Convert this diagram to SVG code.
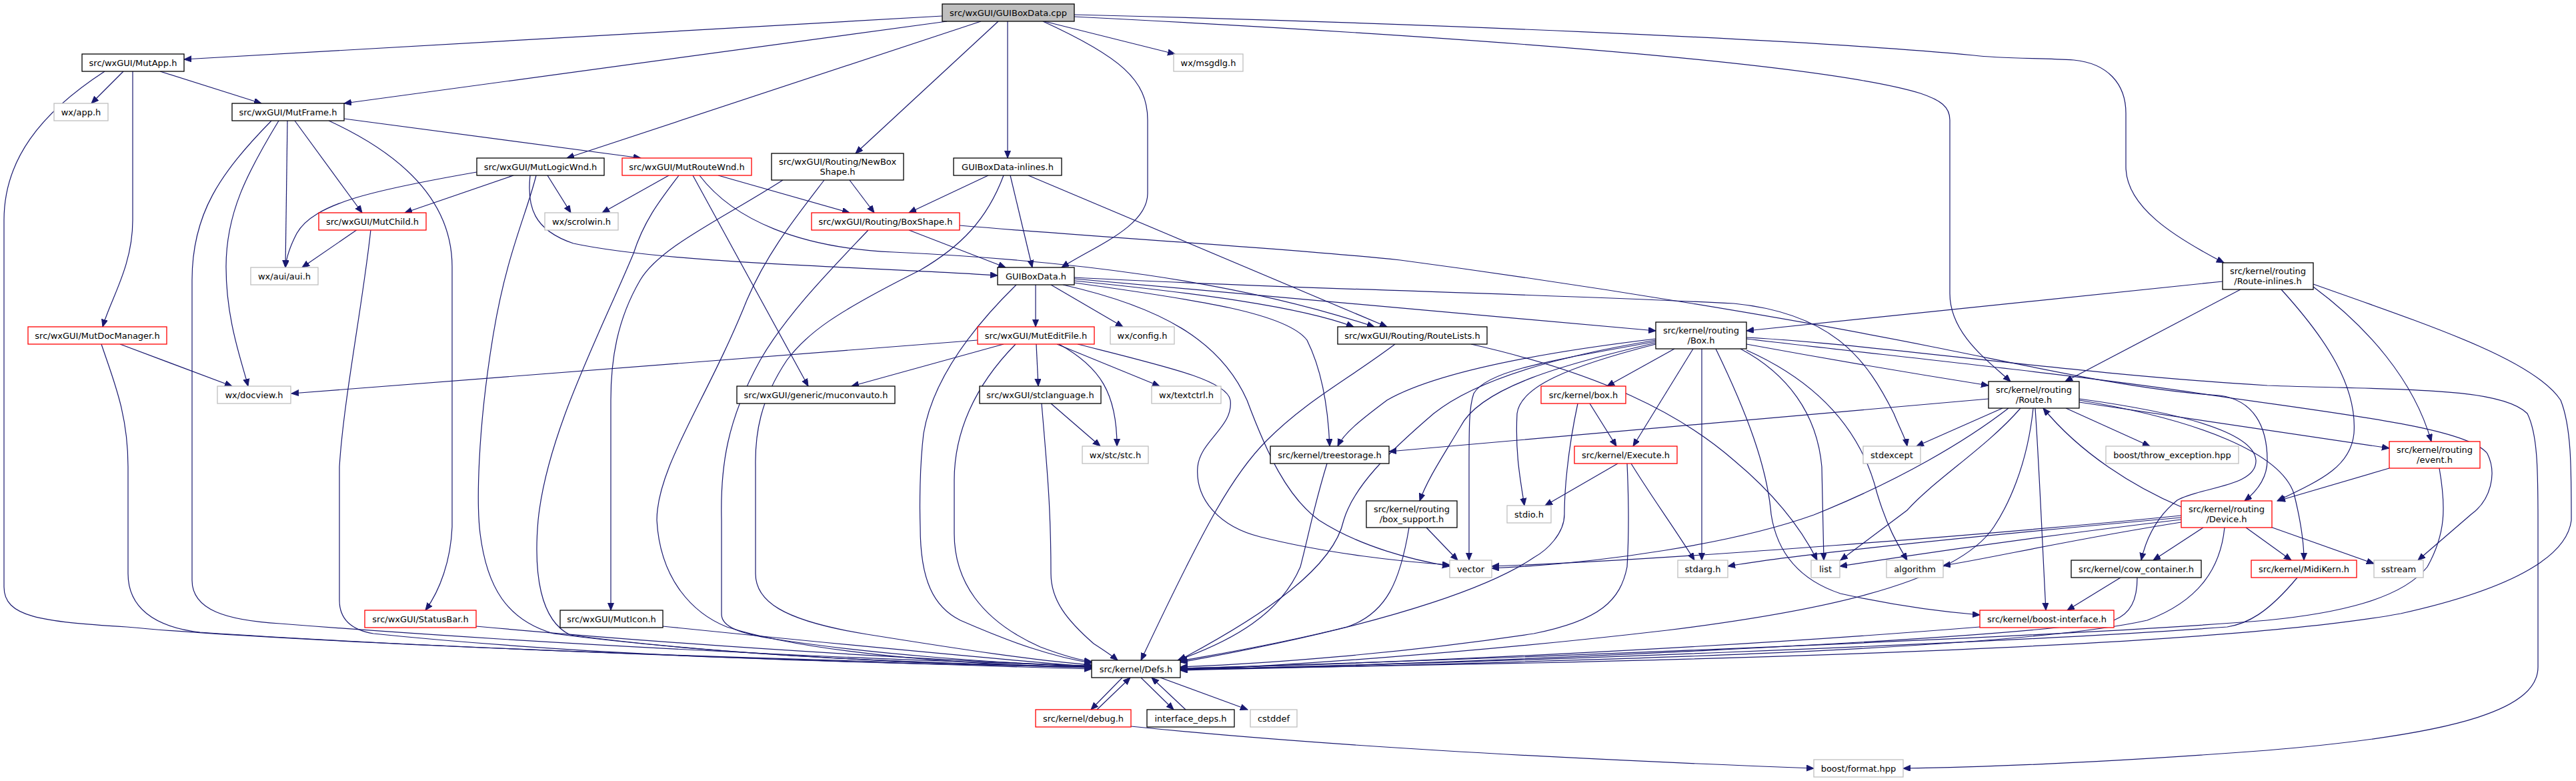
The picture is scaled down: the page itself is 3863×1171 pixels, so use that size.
<svg xmlns="http://www.w3.org/2000/svg" width="3863" height="1171" viewBox="0 0 3863 1171">
<defs>
<style>
.e{fill:none;stroke:#191970;stroke-width:1.2;marker-end:url(#ah)}
rect{fill:#fff;stroke-width:1.3}
rect.b{stroke:#000}
rect.r{stroke:#ff0000}
rect.g{stroke:#bfbfbf}
rect.s{fill:#bfbfbf;stroke:#000}
text{font-family:"DejaVu Sans","Liberation Sans",sans-serif;font-size:13px;text-anchor:middle;fill:#000}
</style>
<marker id="ah" markerWidth="12" markerHeight="10" refX="11" refY="4.5" orient="auto" markerUnits="userSpaceOnUse"><path d="M0,0 L11,4.5 L0,9 z" fill="#191970" stroke="#191970" stroke-width="1"/></marker>
</defs>
<rect x="0" y="0" width="3863" height="1171" fill="#fff" stroke="none"/>
<g id="edges">
<path class="e" d="M1413,24 L276,89"/>
<path class="e" d="M1420,32 L516,155"/>
<path class="e" d="M1471,32 L850,237"/>
<path class="e" d="M1497,32 L1283,230"/>
<path class="e" d="M1511,32 L1511,237"/>
<path class="e" d="M1564,32 C1680,85 1721,120 1721,180 L1721,290 C1721,340 1640,370 1592,401"/>
<path class="e" d="M1566,32 L1762,81"/>
<path class="e" d="M1611,22 C2100,34 2700,58 2960,83 C3000,88 3060,87 3110,90 C3160,95 3188,125 3188,170 L3188,250 C3188,310 3260,355 3335,394"/>
<path class="e" d="M1611,25 C2300,60 2750,100 2880,140 C2910,150 2924,160 2924,180 L2924,440 C2924,500 2980,540 3015,572"/>
<path class="e" d="M185,107 L137,155"/>
<path class="e" d="M240,107 L392,155"/>
<path class="e" d="M199,107 L199,330 C199,400 165,450 154,490"/>
<path class="e" d="M157,107 C60,170 6,240 6,330 L6,880 C6,925 60,932 190,940 C400,960 1000,985 1637,1003"/>
<path class="e" d="M180,516 L348,579"/>
<path class="e" d="M152,516 C170,570 192,620 192,700 L192,860 C192,910 230,940 300,948 C700,975 1200,990 1637,1000"/>
<path class="e" d="M407,181 C330,260 288,320 288,420 L288,870 C288,915 340,930 420,935 C800,965 1300,990 1637,998"/>
<path class="e" d="M418,181 C370,260 339,320 339,400 C339,480 362,540 372,579"/>
<path class="e" d="M431,181 L428,401"/>
<path class="e" d="M442,181 L543,319"/>
<path class="e" d="M493,181 C600,230 678,300 678,400 L678,790 C676,840 660,885 638,915"/>
<path class="e" d="M516,178 L961,237"/>
<path class="e" d="M715,258 C560,285 470,305 445,350 C432,375 429,390 428,401"/>
<path class="e" d="M770,263 L607,319"/>
<path class="e" d="M821,263 L856,319"/>
<path class="e" d="M804,263 C790,320 760,380 740,500 C715,650 715,760 720,800 C730,880 760,930 830,950 C1100,985 1400,995 1637,1001"/>
<path class="e" d="M795,263 C790,310 800,345 860,365 C1000,395 1300,400 1496,413"/>
<path class="e" d="M1003,263 L903,319"/>
<path class="e" d="M1018,263 C990,300 966,330 950,380 C900,500 820,650 807,780 C800,860 810,930 855,952 C1100,985 1400,995 1637,1000"/>
<path class="e" d="M1039,263 L1212,579"/>
<path class="e" d="M1049,263 C1100,330 1200,372 1340,378 C1600,390 1850,420 2061,490"/>
<path class="e" d="M1077,263 L1274,319"/>
<path class="e" d="M1274,270 L1311,319"/>
<path class="e" d="M1174,270 C1080,330 990,370 960,420 C925,480 916,540 916,600 L916,915"/>
<path class="e" d="M1236,270 C1190,330 1150,380 1120,450 C1060,600 985,700 985,780 C990,870 1040,920 1090,940 C1200,975 1400,995 1637,1001"/>
<path class="e" d="M1482,263 L1363,319"/>
<path class="e" d="M1515,263 L1548,401"/>
<path class="e" d="M1505,263 C1480,330 1440,370 1380,405 C1250,470 1210,500 1180,540 C1140,600 1132,650 1133,700 L1133,860 C1133,900 1170,930 1300,951 C1450,975 1550,990 1637,997"/>
<path class="e" d="M1542,263 L2080,490"/>
<path class="e" d="M1302,345 C1250,400 1180,470 1140,540 C1090,630 1080,700 1082,780 L1082,921 C1082,940 1110,950 1161,958 C1300,980 1500,995 1637,999"/>
<path class="e" d="M1363,345 L1508,401"/>
<path class="e" d="M1439,338 C1700,360 1932,372 2100,390 C2400,430 2700,480 2898,520 C3050,550 3200,585 3329,593 C3380,600 3400,640 3400,690 C3400,720 3380,740 3366,751"/>
<path class="e" d="M1553,427 L1553,490"/>
<path class="e" d="M1576,427 L1684,490"/>
<path class="e" d="M1524,427 C1470,480 1400,560 1385,650 C1379,700 1379,760 1380,790 C1380,870 1400,910 1440,930 C1520,965 1580,985 1637,994"/>
<path class="e" d="M1611,421 C1800,440 1950,460 2030,490"/>
<path class="e" d="M1611,418 L2483,496"/>
<path class="e" d="M1611,416 C1900,432 2300,440 2600,455 C2750,470 2800,540 2840,620 C2850,645 2858,658 2860,669"/>
<path class="e" d="M1611,424 C1800,450 1930,470 1960,510 C1985,560 1992,620 1994,669"/>
<path class="e" d="M1594,427 C1740,460 1830,510 1870,600 C1900,680 1930,745 1978,780 C2040,820 2120,840 2174,849"/>
<path class="e" d="M1466,510 L437,590"/>
<path class="e" d="M1505,516 L1277,579"/>
<path class="e" d="M1554,516 L1557,579"/>
<path class="e" d="M1588,516 C1650,550 1675,590 1675,669"/>
<path class="e" d="M1585,516 L1739,579"/>
<path class="e" d="M1523,516 C1460,580 1431,650 1431,720 L1431,800 C1431,870 1470,930 1560,970 C1600,985 1620,990 1637,992"/>
<path class="e" d="M1616,516 C1750,550 1840,570 1845,600 C1850,640 1800,660 1796,700 C1792,750 1830,790 1890,805 C1990,830 2100,842 2174,847"/>
<path class="e" d="M1576,605 L1650,669"/>
<path class="e" d="M1562,605 C1570,700 1576,760 1576,860 C1576,900 1600,930 1640,965 C1660,978 1670,985 1676,990"/>
<path class="e" d="M2092,516 C2020,570 1960,600 1900,660 C1850,710 1810,780 1711,990"/>
<path class="e" d="M2206,516 C2400,560 2520,620 2600,690 C2660,740 2700,790 2725,840"/>
<path class="e" d="M2511,523 L2410,579"/>
<path class="e" d="M2539,523 L2449,669"/>
<path class="e" d="M2552,523 L2552,840"/>
<path class="e" d="M2573,523 C2620,620 2650,700 2656,771 C2665,830 2700,870 2760,890 C2850,910 2920,918 2969,922"/>
<path class="e" d="M2610,523 C2680,560 2725,620 2732,700 L2735,840"/>
<path class="e" d="M2619,525 C2720,570 2790,640 2815,740 C2830,790 2845,815 2860,840"/>
<path class="e" d="M2483,508 C2300,530 2150,560 2080,600 C2040,630 2015,650 2006,669"/>
<path class="e" d="M2483,510 C2300,540 2200,580 2150,620 C2080,680 2030,730 2015,780 C2000,850 1900,920 1768,990"/>
<path class="e" d="M2483,512 C2330,540 2230,555 2210,590 C2203,610 2203,640 2203,700 L2203,840"/>
<path class="e" d="M2483,514 C2350,545 2220,580 2190,640 C2160,690 2140,720 2129,751"/>
<path class="e" d="M2483,516 C2350,550 2280,580 2275,620 C2272,680 2280,720 2286,758"/>
<path class="e" d="M2619,516 C2750,540 2900,565 2982,578"/>
<path class="e" d="M2619,508 C2800,530 3100,560 3300,590 C3500,620 3700,640 3730,680 C3745,710 3735,750 3706,771 L3626,840"/>
<path class="e" d="M2619,506 C2800,515 3100,560 3400,578 C3600,585 3750,580 3790,620 C3805,650 3806,700 3806,780 L3806,1000 C3806,1060 3700,1100 3400,1125 C3200,1140 3000,1150 2854,1152"/>
<path class="e" d="M3333,422 L2619,496"/>
<path class="e" d="M3360,434 L3097,572"/>
<path class="e" d="M3421,434 C3490,510 3535,580 3530,650 C3525,700 3480,720 3415,751"/>
<path class="e" d="M3469,430 C3550,490 3620,570 3646,662"/>
<path class="e" d="M3469,426 C3650,490 3800,540 3840,600 C3856,640 3856,700 3856,780 C3850,830 3780,880 3600,920 C3300,975 2400,995 1770,1003"/>
<path class="e" d="M2982,598 L2083,677"/>
<path class="e" d="M3003,612 L2874,669"/>
<path class="e" d="M3012,612 C2950,660 2850,720 2720,772 C2600,815 2400,845 2237,852"/>
<path class="e" d="M3030,612 C2980,670 2900,720 2860,765 L2760,840"/>
<path class="e" d="M3049,612 C3040,700 3010,760 2990,790 C2930,880 2700,920 2500,945 C2200,980 1900,1000 1770,1004"/>
<path class="e" d="M3052,612 C3058,700 3062,800 3068,915"/>
<path class="e" d="M3098,612 L3224,669"/>
<path class="e" d="M3118,603 L3583,672"/>
<path class="e" d="M3118,598 C3280,620 3380,650 3383,690 C3385,730 3300,730 3265,750 C3240,770 3220,800 3211,840"/>
<path class="e" d="M3118,600 C3300,630 3420,680 3440,740 C3450,780 3455,810 3455,840"/>
<path class="e" d="M3271,760 C3200,730 3120,680 3064,612"/>
<path class="e" d="M3304,791 L3229,840"/>
<path class="e" d="M3336,791 C3330,850 3300,900 3220,930 C3000,980 2200,995 1770,1005"/>
<path class="e" d="M3368,791 L3436,840"/>
<path class="e" d="M3402,789 L3560,845"/>
<path class="e" d="M3271,773 C3000,800 2500,840 2237,849"/>
<path class="e" d="M3271,776 C3000,800 2700,830 2591,849"/>
<path class="e" d="M3271,779 C3050,805 2850,835 2759,849"/>
<path class="e" d="M3271,783 C3100,810 2980,838 2914,848"/>
<path class="e" d="M3583,702 L3416,751"/>
<path class="e" d="M3658,702 C3668,760 3668,800 3640,850 C3600,900 3500,920 3400,930 C3100,955 2200,990 1770,1002"/>
<path class="e" d="M3180,866 L3100,915"/>
<path class="e" d="M3205,866 C3205,900 3195,920 3170,930 C3000,960 2200,995 1770,1004"/>
<path class="e" d="M3445,866 C3400,920 3370,935 3340,940 C3000,965 2200,995 1770,1004"/>
<path class="e" d="M2969,940 C2600,970 2100,995 1770,1002"/>
<path class="e" d="M2384,605 L2424,669"/>
<path class="e" d="M2366,605 C2350,680 2346,740 2346,771 C2346,800 2320,825 2300,836 C2250,870 2120,930 1770,993"/>
<path class="e" d="M2426,695 L2317,758"/>
<path class="e" d="M2446,695 C2480,750 2510,790 2541,840"/>
<path class="e" d="M2440,695 C2443,760 2443,800 2440,850 C2430,900 2400,930 2300,950 C2100,980 1900,995 1770,1000"/>
<path class="e" d="M2139,791 L2186,840"/>
<path class="e" d="M2113,791 C2100,870 2080,920 2020,940 C1900,970 1800,985 1770,991"/>
<path class="e" d="M1990,695 C1970,760 1963,800 1950,850 C1920,920 1850,960 1766,990"/>
<path class="e" d="M1683,1016 L1636,1064"/>
<path class="e" d="M1645,1064 L1695,1016"/>
<path class="e" d="M1711,1016 L1760,1064"/>
<path class="e" d="M1778,1064 L1727,1016"/>
<path class="e" d="M1740,1016 L1871,1064"/>
<path class="e" d="M1696,1089 C2000,1120 2400,1140 2720,1152"/>
<path class="e" d="M536,344 L453,401"/>
<path class="e" d="M556,344 C545,450 515,600 509,700 L509,900 C509,930 530,945 560,950 C900,985 1300,995 1637,1000"/>
<path class="e" d="M714,939 C1000,965 1300,985 1637,999"/>
<path class="e" d="M994,939 C1200,960 1400,980 1637,1000"/>
</g>
<g id="n0"><rect class="s" x="1413" y="6" width="198" height="26"/><text x="1512" y="23.5">src/wxGUI/GUIBoxData.cpp</text></g>
<g id="n1"><rect class="b" x="123" y="81" width="153" height="26"/><text x="199.5" y="98.5">src/wxGUI/MutApp.h</text></g>
<g id="n2"><rect class="g" x="81" y="155" width="81" height="26"/><text x="121.5" y="172.5">wx/app.h</text></g>
<g id="n3"><rect class="b" x="348" y="155" width="168" height="26"/><text x="432" y="172.5">src/wxGUI/MutFrame.h</text></g>
<g id="n4"><rect class="b" x="715" y="237" width="191" height="26"/><text x="810.5" y="254.5">src/wxGUI/MutLogicWnd.h</text></g>
<g id="n5"><rect class="r" x="933" y="237" width="194" height="26"/><text x="1030" y="254.5">src/wxGUI/MutRouteWnd.h</text></g>
<g id="n6"><rect class="b" x="1157" y="230" width="198" height="40"/><text x="1256" y="247.3">src/wxGUI/Routing/NewBox</text><text x="1256" y="261.7">Shape.h</text></g>
<g id="n7"><rect class="b" x="1430" y="237" width="162" height="26"/><text x="1511" y="254.5">GUIBoxData-inlines.h</text></g>
<g id="n8"><rect class="g" x="1760" y="81" width="104" height="26"/><text x="1812" y="98.5">wx/msgdlg.h</text></g>
<g id="n9"><rect class="r" x="478" y="319" width="161" height="26"/><text x="558.5" y="336.5">src/wxGUI/MutChild.h</text></g>
<g id="n10"><rect class="g" x="817" y="319" width="110" height="26"/><text x="872" y="336.5">wx/scrolwin.h</text></g>
<g id="n11"><rect class="r" x="1217" y="319" width="222" height="26"/><text x="1328" y="336.5">src/wxGUI/Routing/BoxShape.h</text></g>
<g id="n12"><rect class="g" x="376" y="401" width="101" height="26"/><text x="426.5" y="418.5">wx/aui/aui.h</text></g>
<g id="n13"><rect class="b" x="1496" y="401" width="115" height="26"/><text x="1553.5" y="418.5">GUIBoxData.h</text></g>
<g id="n14"><rect class="r" x="42" y="490" width="208" height="26"/><text x="146" y="507.5">src/wxGUI/MutDocManager.h</text></g>
<g id="n15"><rect class="r" x="1466" y="490" width="175" height="26"/><text x="1553.5" y="507.5">src/wxGUI/MutEditFile.h</text></g>
<g id="n16"><rect class="g" x="1665" y="490" width="96" height="26"/><text x="1713" y="507.5">wx/config.h</text></g>
<g id="n17"><rect class="b" x="2006" y="490" width="224" height="26"/><text x="2118" y="507.5">src/wxGUI/Routing/RouteLists.h</text></g>
<g id="n18"><rect class="b" x="2483" y="483" width="136" height="40"/><text x="2551" y="500.3">src/kernel/routing</text><text x="2551" y="514.7">/Box.h</text></g>
<g id="n19"><rect class="b" x="3333" y="394" width="136" height="40"/><text x="3401" y="411.3">src/kernel/routing</text><text x="3401" y="425.7">/Route-inlines.h</text></g>
<g id="n20"><rect class="g" x="326" y="579" width="110" height="26"/><text x="381" y="596.5">wx/docview.h</text></g>
<g id="n21"><rect class="b" x="1105" y="579" width="237" height="26"/><text x="1223.5" y="596.5">src/wxGUI/generic/muconvauto.h</text></g>
<g id="n22"><rect class="b" x="1469" y="579" width="182" height="26"/><text x="1560" y="596.5">src/wxGUI/stclanguage.h</text></g>
<g id="n23"><rect class="g" x="1727" y="579" width="104" height="26"/><text x="1779" y="596.5">wx/textctrl.h</text></g>
<g id="n24"><rect class="r" x="2311" y="579" width="127" height="26"/><text x="2374.5" y="596.5">src/kernel/box.h</text></g>
<g id="n25"><rect class="b" x="2982" y="572" width="136" height="40"/><text x="3050" y="589.3">src/kernel/routing</text><text x="3050" y="603.7">/Route.h</text></g>
<g id="n26"><rect class="g" x="1623" y="669" width="99" height="26"/><text x="1672.5" y="686.5">wx/stc/stc.h</text></g>
<g id="n27"><rect class="b" x="1905" y="669" width="178" height="26"/><text x="1994" y="686.5">src/kernel/treestorage.h</text></g>
<g id="n28"><rect class="r" x="2361" y="669" width="154" height="26"/><text x="2438" y="686.5">src/kernel/Execute.h</text></g>
<g id="n29"><rect class="g" x="2794" y="669" width="86" height="26"/><text x="2837" y="686.5">stdexcept</text></g>
<g id="n30"><rect class="g" x="3158" y="669" width="199" height="26"/><text x="3257.5" y="686.5">boost/throw_exception.hpp</text></g>
<g id="n31"><rect class="r" x="3583" y="662" width="136" height="40"/><text x="3651" y="679.3">src/kernel/routing</text><text x="3651" y="693.7">/event.h</text></g>
<g id="n32"><rect class="b" x="2049" y="751" width="136" height="40"/><text x="2117" y="768.3">src/kernel/routing</text><text x="2117" y="782.7">/box_support.h</text></g>
<g id="n33"><rect class="g" x="2260" y="758" width="66" height="26"/><text x="2293" y="775.5">stdio.h</text></g>
<g id="n34"><rect class="r" x="3271" y="751" width="136" height="40"/><text x="3339" y="768.3">src/kernel/routing</text><text x="3339" y="782.7">/Device.h</text></g>
<g id="n35"><rect class="g" x="2174" y="840" width="63" height="26"/><text x="2205.5" y="857.5">vector</text></g>
<g id="n36"><rect class="g" x="2516" y="840" width="75" height="26"/><text x="2553.5" y="857.5">stdarg.h</text></g>
<g id="n37"><rect class="g" x="2716" y="840" width="43" height="26"/><text x="2737.5" y="857.5">list</text></g>
<g id="n38"><rect class="g" x="2829" y="840" width="85" height="26"/><text x="2871.5" y="857.5">algorithm</text></g>
<g id="n39"><rect class="b" x="3106" y="840" width="195" height="26"/><text x="3203.5" y="857.5">src/kernel/cow_container.h</text></g>
<g id="n40"><rect class="r" x="3376" y="840" width="158" height="26"/><text x="3455" y="857.5">src/kernel/MidiKern.h</text></g>
<g id="n41"><rect class="g" x="3560" y="840" width="74" height="26"/><text x="3597" y="857.5">sstream</text></g>
<g id="n42"><rect class="r" x="547" y="915" width="167" height="26"/><text x="630.5" y="932.5">src/wxGUI/StatusBar.h</text></g>
<g id="n43"><rect class="b" x="840" y="915" width="154" height="26"/><text x="917" y="932.5">src/wxGUI/MutIcon.h</text></g>
<g id="n44"><rect class="r" x="2969" y="915" width="201" height="26"/><text x="3069.5" y="932.5">src/kernel/boost-interface.h</text></g>
<g id="n45"><rect class="b" x="1637" y="990" width="133" height="26"/><text x="1703.5" y="1007.5">src/kernel/Defs.h</text></g>
<g id="n46"><rect class="r" x="1553" y="1064" width="143" height="26"/><text x="1624.5" y="1081.5">src/kernel/debug.h</text></g>
<g id="n47"><rect class="b" x="1720" y="1064" width="131" height="26"/><text x="1785.5" y="1081.5">interface_deps.h</text></g>
<g id="n48"><rect class="g" x="1875" y="1064" width="70" height="26"/><text x="1910" y="1081.5">cstddef</text></g>
<g id="n49"><rect class="g" x="2720" y="1139" width="134" height="26"/><text x="2787" y="1156.5">boost/format.hpp</text></g>
</svg>
